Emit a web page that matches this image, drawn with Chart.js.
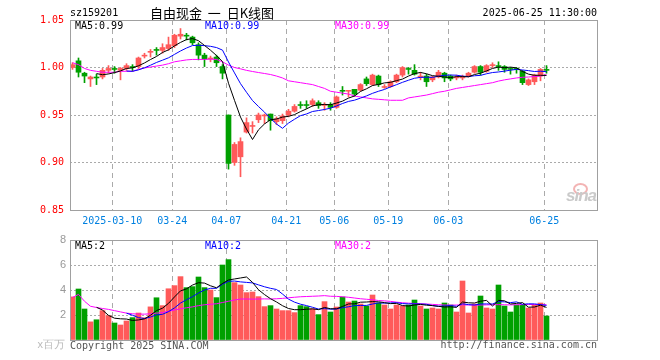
<!DOCTYPE html>
<html>
<head>
<meta charset="utf-8">
<script src="https://cdn.jsdelivr.net/npm/chart.js@4.4.1/dist/chart.umd.min.js"></script>
<style>
  body { margin: 0; background: #fff; }
  #wrap { position: relative; width: 660px; height: 360px; overflow: hidden; }
  canvas { position: absolute; left: 0; top: 0; }
  .t { position: absolute; white-space: nowrap; font: 10px "DejaVu Sans Mono", monospace; line-height: 12px; }
</style>
</head>
<body>
<div id="wrap">
  <canvas id="kline" width="660" height="360"></canvas>
  <canvas id="vol" width="660" height="360"></canvas>

  <div class="t" style="left:70px;top:7px;color:#000">sz159201</div>
  <div class="t" style="left:150px;top:5px;white-space:pre;font:13px 'Noto Sans CJK SC';line-height:16px;color:#000">自由现金  一  日K线图</div>
  <div class="t" style="right:63px;top:7px;color:#000">2025-06-25 11:30:00</div>

  <div class="t" id="pma5" style="left:75px;top:20px;color:#000"></div>
  <div class="t" id="pma10" style="left:205px;top:20px;color:#0000ff"></div>
  <div class="t" id="pma30" style="left:335px;top:20px;color:#ff00ff"></div>

  <div class="t" id="vma5" style="left:75px;top:240px;color:#000"></div>
  <div class="t" id="vma10" style="left:205px;top:240px;color:#0000ff"></div>
  <div class="t" id="vma30" style="left:335px;top:240px;color:#ff00ff"></div>

  <div class="t" style="right:595px;top:337px;font:11px 'Liberation Sans';color:#bbb">x百万</div>
  <div class="t" style="left:70px;top:340px;color:#555">Copyright 2025 SINA.COM</div>
  <div class="t" style="right:63px;top:339px;color:#555">http://finance.sina.com.cn</div>

  <div style="position:absolute;left:573px;top:183px;width:11px;height:8px;border:2px solid #f3b4b4;border-radius:50%"></div>
  <div class="t" style="left:566px;top:186px;font:italic bold 17px 'Liberation Sans';line-height:20px;color:#cacaca;letter-spacing:-1px">sina</div>
</div>

<script>
// trading days shown
const dates = [
  '2025-02-27','2025-02-28','2025-03-03','2025-03-04','2025-03-05','2025-03-06','2025-03-07',
  '2025-03-10','2025-03-11','2025-03-12','2025-03-13','2025-03-14',
  '2025-03-17','2025-03-18','2025-03-19','2025-03-20','2025-03-21',
  '2025-03-24','2025-03-25','2025-03-26','2025-03-27','2025-03-28',
  '2025-03-31','2025-04-01','2025-04-02','2025-04-03',
  '2025-04-07','2025-04-08','2025-04-09','2025-04-10','2025-04-11',
  '2025-04-14','2025-04-15','2025-04-16','2025-04-17','2025-04-18',
  '2025-04-21','2025-04-22','2025-04-23','2025-04-24','2025-04-25',
  '2025-04-28','2025-04-29','2025-04-30',
  '2025-05-06','2025-05-07','2025-05-08','2025-05-09',
  '2025-05-12','2025-05-13','2025-05-14','2025-05-15','2025-05-16',
  '2025-05-19','2025-05-20','2025-05-21','2025-05-22','2025-05-23',
  '2025-05-26','2025-05-27','2025-05-28','2025-05-29','2025-05-30',
  '2025-06-03','2025-06-04','2025-06-05','2025-06-06',
  '2025-06-09','2025-06-10','2025-06-11','2025-06-12','2025-06-13',
  '2025-06-16','2025-06-17','2025-06-18','2025-06-19','2025-06-20',
  '2025-06-23','2025-06-24','2025-06-25'
];

const opens = [
  1.000,1.007,0.994,0.988,0.990,0.990,0.997,0.999,0.997,0.999,
  1.001,1.001,1.012,1.016,1.019,1.018,1.020,1.023,1.033,1.034,
  1.032,1.024,1.013,1.009,1.011,1.001,0.950,0.900,0.906,0.932,
  0.938,0.945,0.949,0.951,0.943,0.944,0.950,0.954,0.961,0.961,
  0.961,0.963,0.960,0.961,0.958,0.976,0.975,0.977,0.976,0.988,
  0.982,0.991,0.979,0.980,0.985,0.992,0.999,0.997,0.990,0.991,
  0.987,0.990,0.994,0.991,0.989,0.989,0.991,0.995,1.001,0.996,
  1.002,1.002,1.001,0.999,0.999,0.996,0.982,0.985,0.991,0.998
];
const highs = [
  1.005,1.010,0.995,0.991,0.993,0.999,1.002,1.001,1.000,1.004,
  1.003,1.011,1.015,1.019,1.021,1.025,1.032,1.035,1.041,1.036,
  1.033,1.026,1.015,1.012,1.013,1.003,0.950,0.921,0.926,0.947,
  0.943,0.952,0.951,0.951,0.948,0.951,0.956,0.961,0.964,0.965,
  0.967,0.965,0.963,0.963,0.970,0.980,0.976,0.977,0.983,0.990,
  0.993,0.992,0.982,0.986,0.993,1.001,1.000,1.003,0.995,0.993,
  0.991,0.997,0.995,0.992,0.992,0.992,0.995,1.002,1.002,1.003,
  1.005,1.006,1.002,1.000,1.000,0.997,0.988,0.993,0.999,1.002
];
const lows = [
  0.998,0.990,0.984,0.980,0.982,0.988,0.994,0.994,0.987,0.997,
  0.996,0.999,1.010,1.011,1.013,1.015,1.018,1.021,1.030,1.029,
  1.024,1.008,1.001,1.006,1.001,0.988,0.893,0.897,0.885,0.931,
  0.931,0.942,0.941,0.934,0.940,0.941,0.948,0.953,0.957,0.957,
  0.959,0.957,0.955,0.955,0.957,0.971,0.969,0.970,0.975,0.981,
  0.981,0.980,0.978,0.979,0.984,0.990,0.993,0.992,0.987,0.980,
  0.985,0.989,0.985,0.986,0.987,0.987,0.990,0.994,0.992,0.995,
  1.000,0.997,0.995,0.993,0.994,0.982,0.981,0.982,0.986,0.994
];
const closes = [
  1.003,0.995,0.991,0.990,0.989,0.997,0.999,0.998,0.999,1.002,
  1.000,1.010,1.013,1.017,1.018,1.021,1.024,1.034,1.035,1.033,
  1.026,1.013,1.009,1.010,1.005,0.994,0.899,0.919,0.922,0.942,
  0.939,0.950,0.950,0.944,0.946,0.949,0.954,0.959,0.960,0.960,
  0.965,0.960,0.961,0.958,0.969,0.975,0.976,0.972,0.982,0.983,
  0.992,0.982,0.980,0.985,0.992,1.000,0.998,0.993,0.991,0.985,
  0.990,0.995,0.989,0.988,0.990,0.990,0.994,1.001,0.995,1.002,
  1.003,1.001,0.998,0.998,0.998,0.984,0.987,0.992,0.998,0.997
];

// volume, millions
const volumes = [
  3.45,4.08,2.48,1.45,1.62,2.35,1.95,1.36,1.20,1.52,
  1.79,2.16,1.78,2.65,3.38,2.75,4.10,4.35,5.07,4.19,
  4.27,5.04,4.19,4.00,3.39,6.00,6.43,4.59,4.40,3.79,
  3.84,3.47,2.67,2.75,2.48,2.35,2.35,2.19,2.75,2.67,
  2.50,2.03,3.07,2.24,2.64,3.44,3.04,3.12,2.88,2.72,
  3.60,2.96,2.80,2.48,2.80,2.72,2.80,3.20,2.72,2.48,
  2.56,2.48,2.96,2.80,2.24,4.72,2.16,2.88,3.52,2.56,
  2.48,4.40,2.72,2.24,2.80,2.80,2.56,2.80,2.96,1.92
];

// MA30 lines (earlier history not shown)
const ma30Price = [
  1.005,1.003,0.999,0.997,0.996,0.995,0.995,0.995,0.996,0.996,
  0.996,0.998,0.9995,1.0005,1.0015,1.0025,1.004,1.006,1.007,1.008,
  1.0085,1.0085,1.0085,1.0088,1.0085,1.006,1.0025,1.000,0.9986,0.997,
  0.9958,0.9947,0.9937,0.9926,0.991,0.989,0.986,0.985,0.984,0.983,
  0.982,0.980,0.978,0.975,0.974,0.973,0.972,0.970,0.969,0.968,
  0.967,0.9665,0.966,0.9655,0.9655,0.9655,0.968,0.969,0.970,0.971,
  0.9725,0.974,0.975,0.9765,0.978,0.979,0.980,0.981,0.982,0.983,
  0.984,0.9857,0.987,0.988,0.989,0.9897,0.990,0.9905,0.991,0.9926
];
const ma30Vol = [
  3.40,3.65,3.10,2.70,2.60,2.52,2.45,2.35,2.25,2.15,
  2.10,2.07,2.07,2.10,2.15,2.20,2.30,2.40,2.50,2.58,
  2.65,2.75,2.82,2.86,2.90,3.00,3.10,3.20,3.28,3.28,
  3.27,3.28,3.29,3.28,3.30,3.33,3.38,3.42,3.46,3.48,
  3.50,3.52,3.55,3.50,3.49,3.46,3.42,3.36,3.30,3.26,
  3.22,3.16,3.13,3.09,3.03,2.98,2.95,2.92,2.90,2.88,
  2.85,2.82,2.80,2.79,2.80,2.81,2.80,2.79,2.80,2.81,
  2.82,2.83,2.82,2.81,2.82,2.83,2.84,2.84,2.83,2.82
];

const tickDates = ['2025-03-10','2025-03-24','2025-04-07','2025-04-21','2025-05-06','2025-05-19','2025-06-03','2025-06-25'];
const priceTicks = [0.85, 0.90, 0.95, 1.00, 1.05];
const volTicks = [0, 2, 4, 6, 8];

const UP = '#ff5a5a', DOWN = '#00a000';
const colors = closes.map((c, i) => c >= opens[i] ? UP : DOWN);

function movingAvg(arr, n) {
  const out = [];
  for (let i = n - 1; i < arr.length; i++) {
    let s = 0;
    for (let k = i - n + 1; k <= i; k++) s += arr[k];
    out.push({ x: i, y: s / n });
  }
  return out;
}
const pts = arr => arr.map((v, i) => ({ x: i, y: v }));
const trunc = (v, d) => (Math.floor(v * Math.pow(10, d) + 1e-9) / Math.pow(10, d)).toFixed(d);

const pMa5 = movingAvg(closes, 5), pMa10 = movingAvg(closes, 10);
const vMa5 = movingAvg(volumes, 5), vMa10 = movingAvg(volumes, 10);
const last = a => a[a.length - 1].y;

document.getElementById('pma5').textContent = 'MA5:' + trunc(last(pMa5), 2);
document.getElementById('pma10').textContent = 'MA10:' + trunc(last(pMa10), 2);
document.getElementById('pma30').textContent = 'MA30:' + trunc(ma30Price[ma30Price.length - 1], 2);
document.getElementById('vma5').textContent = 'MA5:' + trunc(last(vMa5), 0);
document.getElementById('vma10').textContent = 'MA10:' + trunc(last(vMa10), 0);
document.getElementById('vma30').textContent = 'MA30:' + trunc(ma30Vol[ma30Vol.length - 1], 0);

// x as day index, 6px per day inside a 527px wide plot
const xMin = -2.5 / 6, xMax = xMin + 527 / 6;
const tickIdx = tickDates.map(d => dates.indexOf(d));
const mono = { family: 'DejaVu Sans Mono', size: 10 };

function xAxis(showLabels, h) {
  return {
    type: 'linear', min: xMin, max: xMax, offset: false,
    afterBuildTicks: s => { s.ticks = tickIdx.map(i => ({ value: i - 0.37 })); },
    afterFit: s => { s.height = h; },
    ticks: {
      display: showLabels, autoSkip: false, maxRotation: 0, padding: 5,
      color: '#0080e0', font: mono,
      callback: (v, k) => k === 0 ? tickDates[k] : tickDates[k].slice(5)
    },
    grid: { color: '#aaa', drawTicks: false, offset: false },
    border: { display: false, dash: [5, 4] }
  };
}

const boxPlugin = {
  id: 'box',
  afterDraw(chart) {
    const a = chart.chartArea, c = chart.ctx;
    c.save();
    c.strokeStyle = '#a0a0a0';
    c.lineWidth = 1;
    c.setLineDash([]);
    c.strokeRect(a.left + 0.5, a.top + 0.5, a.right - a.left, a.bottom - a.top);
    c.restore();
  }
};

const lineDs = (data, color) => ({
  type: 'line', data: data, borderColor: color, borderWidth: 1,
  pointRadius: 0, tension: 0, order: 0
});

new Chart(document.getElementById('kline'), {
  type: 'bar',
  data: {
    datasets: [
      lineDs(pMa5, '#000000'),
      lineDs(pMa10, '#0000ff'),
      lineDs(pts(ma30Price), '#ff00ff'),
      {
        type: 'bar', order: 1, grouped: false, barThickness: 5, borderWidth: 0,
        backgroundColor: colors,
        data: opens.map((o, i) => ({ x: i, y: [Math.min(o, closes[i]), Math.max(o, closes[i])] }))
      },
      {
        type: 'bar', order: 2, grouped: false, barThickness: 1, borderWidth: 0,
        backgroundColor: colors,
        data: lows.map((l, i) => ({ x: i, y: [l, highs[i]] }))
      }
    ]
  },
  options: {
    responsive: false, animation: false, devicePixelRatio: 1,
    layout: { padding: { top: 20, right: 63, left: 0, bottom: 0 } },
    plugins: { legend: { display: false }, tooltip: { enabled: false } },
    scales: {
      x: xAxis(true, 150),
      y: {
        min: 0.85, max: 1.05,
        afterBuildTicks: s => { s.ticks = priceTicks.map(v => ({ value: v })); },
        afterFit: s => { s.width = 70; },
        ticks: { color: '#ff0000', font: mono, padding: 6, callback: v => v.toFixed(2) },
        grid: {
          drawTicks: false,
          color: c => (c.tick && (c.tick.value <= 0.851 || c.tick.value >= 1.049)) ? 'rgba(0,0,0,0)' : '#aaa'
        },
        border: { display: false, dash: [2, 2] }
      }
    }
  },
  plugins: [boxPlugin]
});

new Chart(document.getElementById('vol'), {
  type: 'bar',
  data: {
    datasets: [
      lineDs(vMa5, '#000000'),
      lineDs(vMa10, '#0000ff'),
      lineDs(pts(ma30Vol), '#ff00ff'),
      {
        type: 'bar', order: 1, grouped: false, barThickness: 5, borderWidth: 0,
        backgroundColor: colors,
        data: pts(volumes)
      }
    ]
  },
  options: {
    responsive: false, animation: false, devicePixelRatio: 1,
    layout: { padding: { top: 240, right: 63, left: 0, bottom: 0 } },
    plugins: { legend: { display: false }, tooltip: { enabled: false } },
    scales: {
      x: xAxis(false, 20),
      y: {
        min: 0, max: 8,
        afterBuildTicks: s => { s.ticks = volTicks.map(v => ({ value: v })); },
        afterFit: s => { s.width = 70; },
        ticks: {
          color: '#999', font: { family: 'Liberation Sans', size: 11 }, padding: 4,
          callback: v => v === 0 ? '' : String(v)
        },
        grid: {
          drawTicks: false,
          color: c => (c.tick && (c.tick.value <= 0 || c.tick.value >= 8)) ? 'rgba(0,0,0,0)' : '#aaa'
        },
        border: { display: false, dash: [2, 2] }
      }
    }
  },
  plugins: [boxPlugin]
});
</script>
</body>
</html>
